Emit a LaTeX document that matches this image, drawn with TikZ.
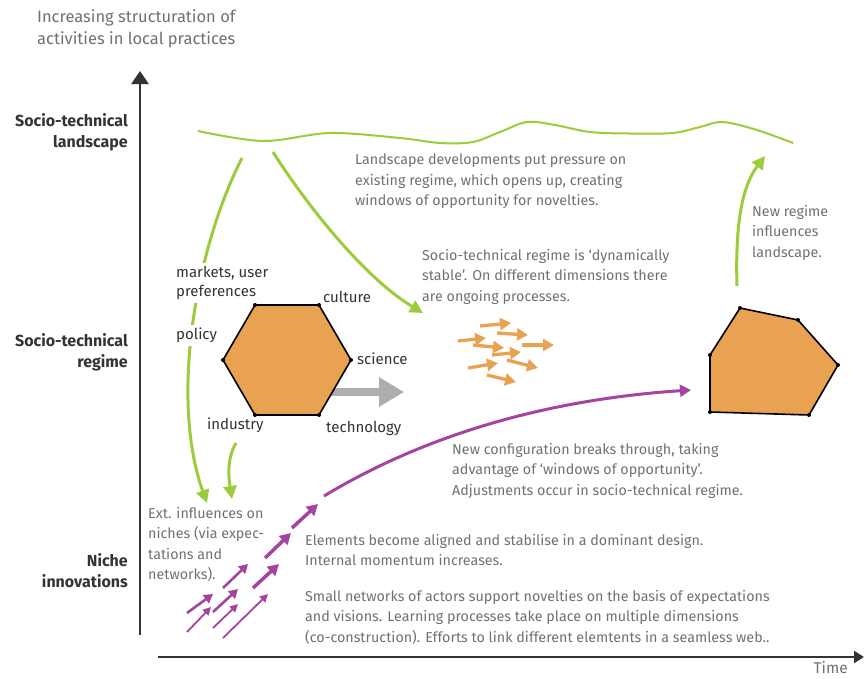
\documentclass[tikz,border=0pt]{standalone}
\usepackage{fontspec}
\setmainfont{Fira Sans}
\usetikzlibrary{arrows.meta}
\definecolor{lgreen}{HTML}{9CCB3B}
\definecolor{purp}{HTML}{A4449E}
\definecolor{orng}{HTML}{E9A152}
\definecolor{txtgray}{HTML}{707070}
\definecolor{axgray}{HTML}{333333}
\definecolor{arrgray}{HTML}{AEAEAE}
\begin{document}
\begin{tikzpicture}[x=1pt,y=-1pt,
  desc/.style={font=\fontsize{14.3}{20.5}\selectfont, text=txtgray, align=left, anchor=north west, inner sep=0pt},
  level/.style={font=\fontsize{16}{21}\selectfont\bfseries, text=axgray, align=right, anchor=north east, inner sep=0pt},
  dimlabel/.style={font=\fontsize{15}{19.5}\selectfont, text=axgray, align=left, anchor=north west, inner sep=0pt},
  axisline/.style={draw=axgray, line width=2.6pt},
  greenarrow/.style={draw=lgreen, line width=3pt, -{Triangle[length=13pt,width=13pt]}},
  orangearrow/.style={draw=orng, line width=3.3pt, -{Triangle[length=11pt,width=12pt]}},
  purplebig/.style={draw=purp, line width=3.5pt, -{Triangle[length=11pt,width=12pt]}},
  purplemid/.style={draw=purp, line width=2.6pt, -{Triangle[length=9pt,width=10pt]}},
  purplethin/.style={draw=purp, line width=1.8pt, -{Triangle[length=8pt,width=8pt]}},
  vdot/.style={circle, fill=black, inner sep=0pt, minimum size=4pt},
]
\useasboundingbox (0,0) rectangle (864,678);

% ---------------- axes
\coordinate (yb) at (140,635); \coordinate (yt) at (140,71);
\draw[axisline, -{Triangle[length=13pt,width=17pt]}] (yb) -- (yt);
\coordinate (xl) at (158,657); \coordinate (xr) at (864,657);
\draw[axisline, -{Triangle[length=10pt,width=12pt]}] (xl) -- (xr);

\node[desc, font=\fontsize{16.5}{22}\selectfont] (ylab) at (37,9) {Increasing structuration of\\activities in local practices};
\node[desc, anchor=north east, font=\fontsize{15.5}{20}\selectfont] (time) at (848,661) {Time};

\node[level] (lland) at (128,113) {Socio-technical\\landscape};
\node[level] (lreg) at (128,333) {Socio-technical\\regime};
\node[level] (lniche) at (128,553) {Niche\\innovations};

% ---------------- landscape wavy line
\draw[lgreen, line width=2pt] plot[smooth, tension=0.55] coordinates {(198,131) (263,141) (330,133) (400,138) (440,143) (473,142) (500,132) (527,122) (555,125) (590,132) (630,133.5) (673,133) (700,127) (723,122) (757,130) (793,143)};

% ---------------- green arrows
\coordinate (g1s) at (242,158); \coordinate (g1e) at (207,503);
\draw[greenarrow] (g1s) .. controls (195,250) and (170,400) .. (g1e);
\coordinate (g2s) at (236,443); \coordinate (g2e) at (232,499);
\draw[greenarrow] (g2s) .. controls (226,460) and (229,480) .. (g2e);
\coordinate (g3s) at (273,152); \coordinate (g3e) at (423,313);
\draw[greenarrow] (g3s) .. controls (300,195) and (360,275) .. (g3e);
\coordinate (g4s) at (737,286); \coordinate (g4e) at (765,156);
\draw[greenarrow] (g4s) .. controls (735,220) and (743,185) .. (g4e);

% ---------------- gray arrow from regime
\coordinate (gas) at (330,392); \coordinate (gae) at (404,392);
\draw[draw=arrgray, line width=7.5pt, -{Triangle[length=25pt,width=28pt]}] (gas) -- (gae);

% ---------------- hexagon (current regime)
\coordinate (h1) at (255,305); \coordinate (h2) at (319,305); \coordinate (h3) at (351,360);
\coordinate (h4) at (319,415); \coordinate (h5) at (255,415); \coordinate (h6) at (223,360);
\draw[fill=orng, draw=black, line width=1.6pt, line join=round] (h1) -- (h2) -- (h3) -- (h4) -- (h5) -- (h6) -- cycle;
\foreach \p in {h1,h2,h3,h4,h5,h6} \node[vdot] at (\p) {};

\node[dimlabel, fill=white, inner sep=3pt] (markets) at (173,263) {markets, user\\preferences};
\node[dimlabel, fill=white, inner sep=3pt] (policy) at (173,325) {policy};
\node[dimlabel] (culture) at (323,291) {culture};
\node[dimlabel] (science) at (357,353) {science};
\node[dimlabel] (technology) at (326,421) {technology};
\node[dimlabel] (industry) at (207,418) {industry};

% ---------------- orange dynamic arrows
\foreach \xa/\ya/\xb/\yb in {480/326/511/323, 497/333/528/335, 458/341/486/338, 522/345/554/345, 473/345/504/348, 492/355/521/352, 507/360/538/368, 468/368/498/363, 487/375/516/382}
  \draw[orangearrow] (\xa,\ya) -- (\xb,\yb);

% ---------------- new regime polygon
\coordinate (p1) at (740,308); \coordinate (p2) at (798,320); \coordinate (p3) at (838,365);
\coordinate (p4) at (809,415); \coordinate (p5) at (710,412); \coordinate (p6) at (710,355);
\draw[fill=orng, draw=black, line width=1.6pt, line join=round] (p1) -- (p2) -- (p3) -- (p4) -- (p5) -- (p6) -- cycle;
\foreach \p in {p1,p2,p3,p4,p5,p6} \node[vdot] at (\p) {};

% ---------------- purple niche arrows
\foreach \xa/\ya/\xb/\yb in {292/528/318/504, 265/558/291/533, 253/588/279/564}
  \draw[purplebig] (\xa,\ya) -- (\xb,\yb);
\foreach \xa/\ya/\xb/\yb in {223/588/248/564, 187/613/213/594, 213/612/238/589}
  \draw[purplemid] (\xa,\ya) -- (\xb,\yb);
\foreach \xa/\ya/\xb/\yb in {187/632/211/607, 213/628/238/604, 223/638/268/594}
  \draw[purplethin] (\xa,\ya) -- (\xb,\yb);
\coordinate (bs) at (324,496); \coordinate (be) at (691,390);
\draw[purplebig, line width=3pt] (bs) .. controls (420,438) and (540,400) .. (be);

% ---------------- descriptions
\node[desc] (dland) at (355,154) {Landscape developments put pressure on\\existing regime, which opens up, creating\\windows of opportunity for novelties.};
\node[desc] (dreg) at (422,249) {Socio-technical regime is `dynamically\\stable'. On different dimensions there\\are ongoing processes.};
\node[desc] (dnew) at (752,205) {New regime\\influences\\landscape.};
\node[desc] (dconf) at (452,443) {New configuration breaks through, taking\\advantage of `windows of opportunity'.\\Adjustments occur in socio-technical regime.};
\node[desc] (dext) at (148,507) {Ext. influences on\\niches (via expec-\\tations and\\networks).};
\node[desc] (delem) at (305,534) {Elements become aligned and stabilise in a dominant design.\\Internal momentum increases.};
\node[desc] (dsmall) at (305,590) {Small networks of actors support novelties on the basis of expectations\\and visions. Learning processes take place on multiple dimensions\\(co-construction). Efforts to link different elemtents in a seamless web..};
\end{tikzpicture}
\end{document}
